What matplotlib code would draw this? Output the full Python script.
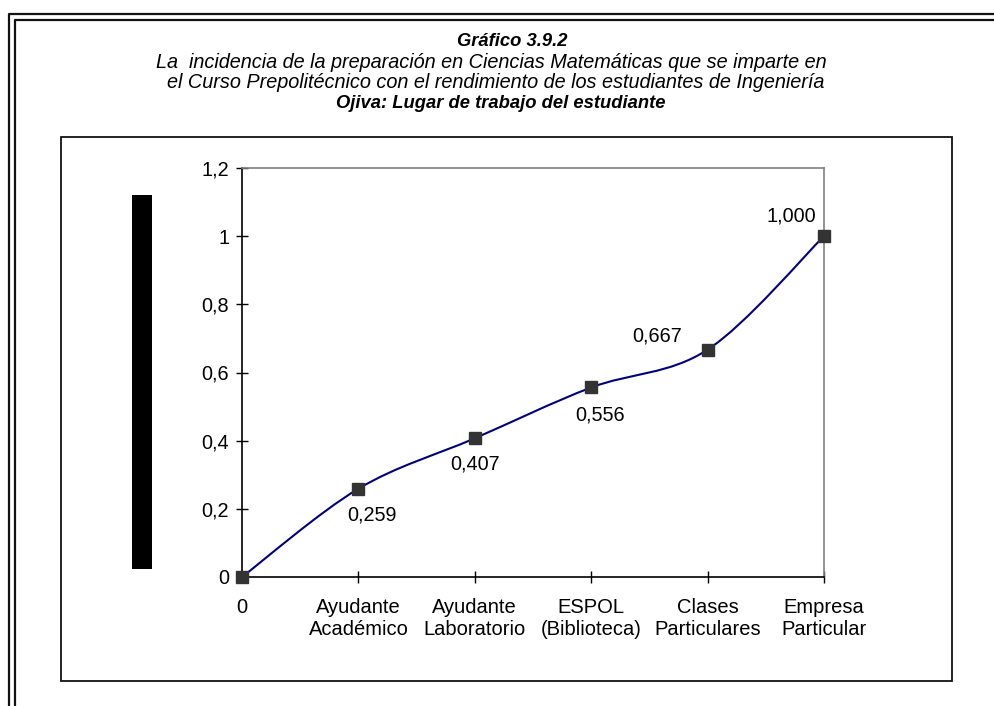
import numpy as np
import matplotlib.pyplot as plt
from matplotlib.path import Path
from matplotlib.patches import PathPatch, Rectangle

plt.rcParams["font.family"] = ["Liberation Sans", "DejaVu Sans"]

# Datos
categorias = ["0", "Ayudante\nAcadémico", "Ayudante\nLaboratorio", "ESPOL\n(Biblioteca)",
              "Clases\nParticulares", "Empresa\nParticular"]
frec_acum = [0.0, 0.259, 0.407, 0.556, 0.667, 1.000]
etiquetas = ["", "0,259", "0,407", "0,556", "0,667", "1,000"]
y_ticks = [0, 0.2, 0.4, 0.6, 0.8, 1.0, 1.2]
y_ticklabels = ["0", "0,2", "0,4", "0,6", "0,8", "1", "1,2"]

titulo = "Gráfico 3.9.2"
sub1 = "La  incidencia de la preparación en Ciencias Matemáticas que se imparte en"
sub2 = "el Curso Prepolitécnico con el rendimiento de los estudiantes de Ingeniería"
titulo2 = "Ojiva: Lugar de trabajo del estudiante"

W, H = 994, 706
fig = plt.figure(figsize=(W / 100, H / 100), dpi=100)

# capa de fondo en pixeles (marcos y titulos)
bg = fig.add_axes([0, 0, 1, 1])
bg.set_xlim(0, W)
bg.set_ylim(H, 0)
bg.axis("off")

# marco doble exterior
bg.plot([8.5, 8.5, W], [H, 14, 14], color="#111111", lw=1.6, solid_capstyle="butt")
bg.plot([14.5, 14.5, W], [H, 20, 20], color="#111111", lw=1.6, solid_capstyle="butt")
# recuadro interior
bg.add_patch(Rectangle((61, 137), 891, 544, fill=False, ec="#111111", lw=1.3))
# barra negra (etiqueta del eje)
bg.add_patch(Rectangle((132, 195), 20, 374, fc="black", ec="none"))

bg.text(512, 41, titulo, ha="center", va="center", fontsize=13.2, fontweight="bold",
        style="italic")
bg.text(491, 62, sub1, ha="center", va="center", fontsize=14.3, style="italic")
bg.text(496, 83, sub2, ha="center", va="center", fontsize=14.3, style="italic")
bg.text(501, 104, titulo2, ha="center", va="center", fontsize=13.2, fontweight="bold",
        style="italic")

# grafico principal
ax = fig.add_axes([242 / W, (H - 577) / H, (824 - 242) / W, (577 - 168) / H])
x = np.arange(len(frec_acum))
y = np.array(frec_acum)

# linea suavizada (bezier tipo Excel)
pts = np.column_stack([x, y]).astype(float)
ext = np.vstack([pts[0], pts, pts[-1]])
verts = [tuple(pts[0])]
codes = [Path.MOVETO]
for i in range(len(pts) - 1):
    p0, p1, p2, p3 = ext[i], ext[i + 1], ext[i + 2], ext[i + 3]
    c1 = p1 + (p2 - p0) / 6
    c2 = p2 - (p3 - p1) / 6
    verts += [tuple(c1), tuple(c2), tuple(p2)]
    codes += [Path.CURVE4] * 3
ax.add_patch(PathPatch(Path(verts, codes), fill=False, ec="#000080", lw=1.5, clip_on=False))

ax.plot(x, y, ls="none", marker="s", ms=8.5, color="#333333", clip_on=False, zorder=5)

offsets = [(0, 0), (14, -26), (0, -26), (9, -28), (-50, 14), (-33, 20)]
for xi, yi, lab, (dx, dy) in zip(x, y, etiquetas, offsets):
    if lab:
        ax.annotate(lab, (xi, yi), xytext=(dx * 0.72, dy * 0.72), textcoords="offset points",
                    ha="center", va="center", fontsize=14.3)

ax.set_xlim(0, 5)
ax.set_ylim(0, 1.2)
ax.set_xticks(x)
ax.set_xticklabels(categorias, fontsize=14.5, linespacing=1.2)
ax.set_yticks(y_ticks)
ax.set_yticklabels(y_ticklabels, fontsize=14.3)
ax.tick_params(axis="both", direction="inout", length=8.5, width=1, color="black")
ax.tick_params(axis="x", pad=11)
ax.tick_params(axis="y", pad=5)

for s in ["left", "bottom"]:
    ax.spines[s].set_color("black")
    ax.spines[s].set_linewidth(1.2)
for s in ["top", "right"]:
    ax.spines[s].set_color("#808080")
    ax.spines[s].set_linewidth(1.2)

fig.savefig("out.png", dpi=100)
